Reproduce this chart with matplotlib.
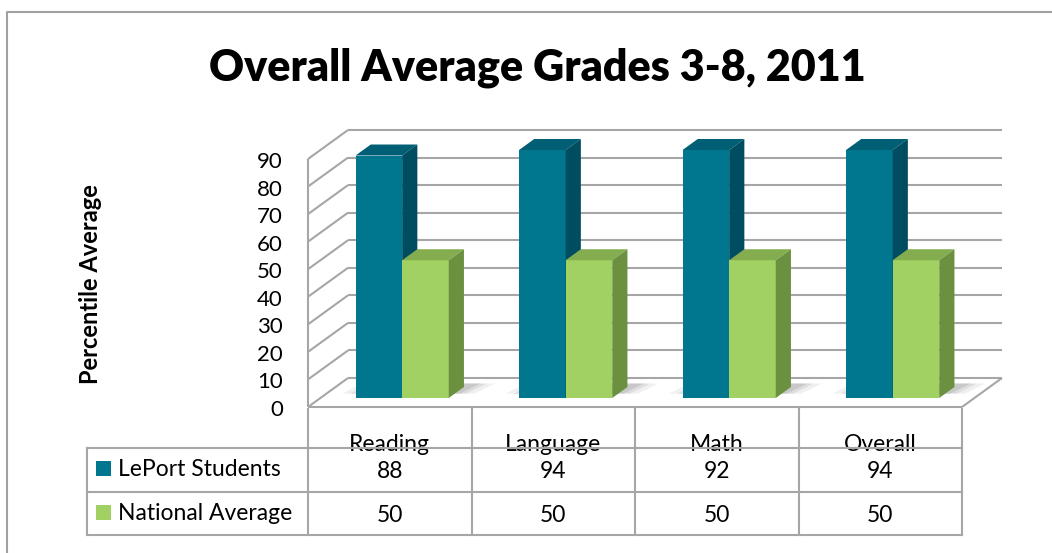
import matplotlib
matplotlib.use("Agg")
import matplotlib.pyplot as plt
from matplotlib.patches import Polygon, Rectangle
from matplotlib.transforms import offset_copy

# data
categories = ["Reading", "Language", "Math", "Overall"]
series_names = ["LePort Students", "National Average"]
leport = [88, 94, 92, 94]
national = [50, 50, 50, 50]
yticks = [0, 10, 20, 30, 40, 50, 60, 70, 80, 90]

plt.rcParams['font.family'] = ['Lato', 'DejaVu Sans']

W, H = 1052, 553
fig = plt.figure(figsize=(W / 100, H / 100), dpi=100)

# overlay in pixel coords for frame / table / titles
over = fig.add_axes([0, 0, 1, 1])
over.set_xlim(0, W)
over.set_ylim(H, 0)
over.axis('off')

# front plane of the 3d box
x0, x1, y0, y1 = 308, 962, 407, 159
ax = fig.add_axes([x0 / W, 1 - y0 / H, (x1 - x0) / W, (y0 - y1) / H])
ax.set_xlim(0, 4)
ax.set_ylim(0, 90)
ax.patch.set_alpha(0)
for s in ax.spines.values():
    s.set_visible(False)
ax.set_xticks([])
ax.set_yticks(yticks)
ax.set_yticklabels([])
ax.tick_params(axis='y', length=0)
lab_tr = offset_copy(ax.get_yaxis_transform(), fig=fig, x=-25, y=-3,
                     units='dots')
for v in yticks:
    ax.text(0, v, str(v), transform=lab_tr, ha='right', va='center',
            fontsize=16)

grid_c = '#a6a6a6'
# depth of the box in data units
DX = 40 / 163.5
DV = 10.52


def proj(x, v, f):
    return x + f * DX, v + f * DV


def seg(p, q, **kw):
    ax.plot([p[0], q[0]], [p[1], q[1]], color=grid_c, lw=1.5,
            clip_on=False, solid_capstyle='butt', **kw)


for v in yticks:
    seg(proj(0, v, 1), proj(4, v, 1))
    seg(proj(0, v, 0), proj(0, v, 1))
seg(proj(0, 0, 0), proj(0, 90, 0))
seg(proj(0, 0, 0), proj(4, 0, 0))
seg(proj(4, 0, 0), proj(4, 0, 1))

# bars
f0, f1 = 0.31, 0.69
w = 0.285
ymax = ax.get_ylim()[1]
cols = [('#00768f', '#005f74', '#004c60'), ('#a0d162', '#84ad4f', '#6b9140')]
for i in range(len(categories)):
    # soft shadow on the floor
    for k, a in [(0.12, 0.12), (0.07, 0.18), (0.03, 0.25)]:
        xs = i + 0.5 - w - k
        xe = i + 0.5 + w + k
        pts = [proj(xs, 0, f0 + 0.15), proj(xe, 0, f0 + 0.15),
               proj(xe + 0.04, 0, f1 + 0.12), proj(xs + 0.04, 0, f1 + 0.12)]
        ax.add_patch(Polygon(pts, closed=True, fc='#8a8a8a', ec='none',
                             alpha=a, clip_on=False, zorder=2))
    for j, vals in enumerate([leport, national]):
        h = min(vals[i], ymax)
        xl = i + 0.5 - w + j * w
        xr = xl + w
        front, top, side = cols[j]
        bx, bv = proj(xl, 0, f0)
        ax.bar(bx, h, width=w, bottom=bv, align='edge', color=front,
               clip_on=False, zorder=3 + j)
        ax.add_patch(Polygon([proj(xl, h, f0), proj(xr, h, f0),
                              proj(xr, h, f1), proj(xl, h, f1)],
                             closed=True, fc=top, ec='none',
                             clip_on=False, zorder=3 + j))
        ax.add_patch(Polygon([proj(xr, 0, f0), proj(xr, h, f0),
                              proj(xr, h, f1), proj(xr, 0, f1)],
                             closed=True, fc=side, ec='none',
                             clip_on=False, zorder=3 + j))

# outer frame
over.plot([7, 7, W], [H, 12, 12], color='#a0a0a0', lw=1.5)

# title and axis label
over.text(537, 68, "Overall Average Grades 3-8, 2011", ha='center',
          va='center', fontsize=31, fontweight='heavy')
over.text(91, 284, "Percentile Average", ha='center', va='center',
          rotation=90, fontsize=17, fontweight='bold')

# data table
tc = '#a6a6a6'
colw = (x1 - x0) / len(categories)
rows_y = [448, 492, 535]
for i in range(len(categories) + 1):
    xx = x0 + i * colw
    over.plot([xx, xx], [y0 + 2, 535], color=tc, lw=1.5)
over.plot([87, 87], [448, 535], color=tc, lw=1.5)
for ry in rows_y:
    over.plot([87, x1], [ry, ry], color=tc, lw=1.5)

for i, c in enumerate(categories):
    over.text(x0 + (i + 0.5) * colw, 451, c, ha='center', va='baseline',
              fontsize=16.5, zorder=1)
    over.text(x0 + (i + 0.5) * colw, 471, str(leport[i]), ha='center',
              va='center', fontsize=16.5)
    over.text(x0 + (i + 0.5) * colw, 515, str(national[i]), ha='center',
              va='center', fontsize=16.5)

for k, (name, yc) in enumerate(zip(series_names, [468, 512])):
    over.add_patch(Rectangle((96, yc - 7), 15, 15, fc=cols[k][0], ec='none'))
    over.text(118, yc + 1, name, ha='left', va='center', fontsize=16.5)

fig.savefig('out.png', dpi=100)
